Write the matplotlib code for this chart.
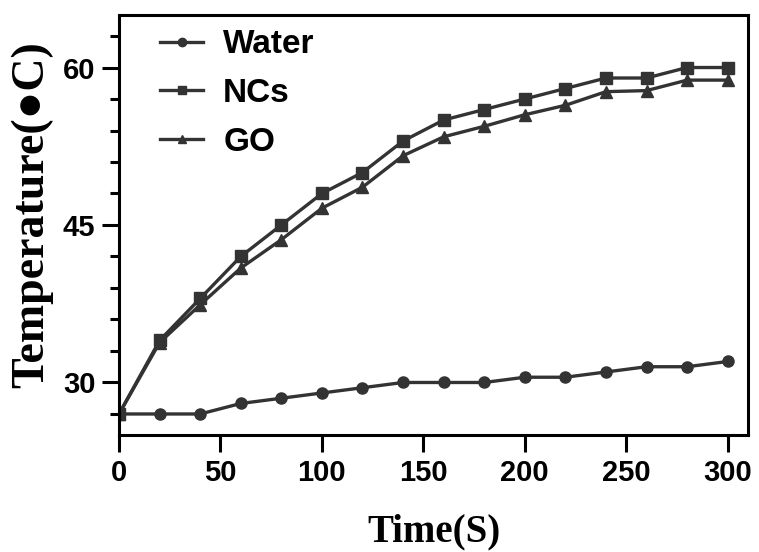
import matplotlib
matplotlib.use('Agg')
import matplotlib.pyplot as plt
from matplotlib.ticker import MultipleLocator

time_s = [0, 20, 40, 60, 80, 100, 120, 140, 160, 180, 200, 220, 240, 260, 280, 300]
water = [27, 27, 27, 28, 28.5, 29, 29.5, 30, 30, 30, 30.5, 30.5, 31, 31.5, 31.5, 32]
ncs = [27, 34, 38, 42, 45, 48, 50, 53, 55, 56, 57, 58, 59, 59, 60, 60]
go = [27, 33.8, 37.4, 40.9, 43.6, 46.6, 48.6, 51.6, 53.4, 54.4, 55.5, 56.4, 57.7, 57.8, 58.8, 58.8]

LINE = '#333333'
SANS = ['Liberation Sans', 'DejaVu Sans']
SERIF = ['Liberation Serif', 'DejaVu Sans']

fig = plt.figure(figsize=(7.59, 5.52), dpi=100)
ax = fig.add_axes([0.1568, 0.212, 0.8287, 0.7608])

ax.plot(time_s, water, color=LINE, lw=2.4, marker='o', ms=8, label='Water')
ax.plot(time_s, ncs, color=LINE, lw=2.4, marker='s', ms=8, label='NCs')
ax.plot(time_s, go, color=LINE, lw=2.4, marker='^', ms=8, label='GO')

ax.set_xlim(0, 310)
ax.set_ylim(25, 65)
ax.set_xticks([0, 50, 100, 150, 200, 250, 300])
ax.set_yticks([30, 45, 60])
ax.yaxis.set_minor_locator(MultipleLocator(3))

for s in ax.spines.values():
    s.set_linewidth(2.2)
ax.tick_params(which='major', direction='out', length=12, width=2.2, pad=5)
ax.tick_params(which='minor', direction='out', length=6.5, width=2.2)
for lab in ax.get_xticklabels() + ax.get_yticklabels():
    lab.set_family(SANS)
    lab.set_fontweight('bold')
    lab.set_fontsize(21)

ax.set_xlabel('Time(S)', family=SERIF, fontweight='bold', fontsize=28, labelpad=19)
ax.set_ylabel('Temperature(\u25cfC)', family=SERIF, fontweight='bold', fontsize=33)
ax.yaxis.set_label_coords(-0.104, 0.525)

leg = ax.legend(loc='upper left', bbox_to_anchor=(0.065, 0.966), frameon=False,
                handlelength=1.3, handletextpad=0.6, labelspacing=0.53,
                markerscale=0.75, borderaxespad=0, borderpad=0,
                prop={'family': SANS, 'weight': 'bold', 'size': 24})

fig.savefig('out.png', dpi=100)
